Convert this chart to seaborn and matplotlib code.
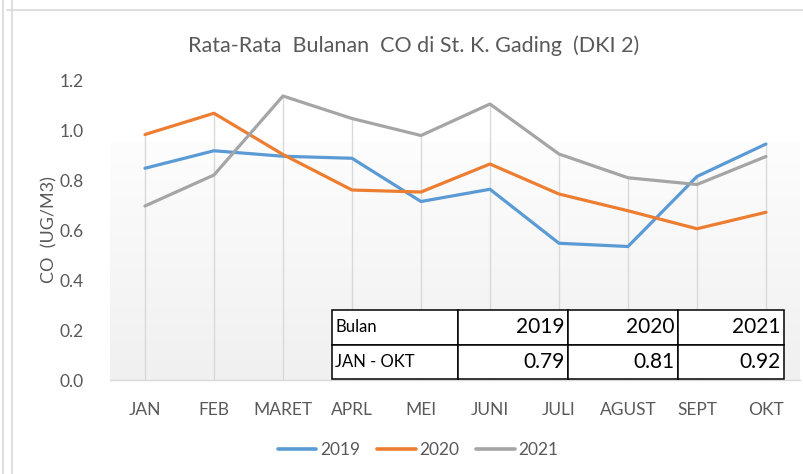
import matplotlib
matplotlib.use("Agg")
import matplotlib.pyplot as plt
import seaborn as sns
import pandas as pd
import numpy as np
from matplotlib.colors import LinearSegmentedColormap
from matplotlib.lines import Line2D

sns.set_theme(style="white")
plt.rcParams['font.family'] = ['Lato', 'DejaVu Sans']

months = ["JAN", "FEB", "MARET", "APRL", "MEI", "JUNI", "JULI", "AGUST", "SEPT", "OKT"]
co_2019 = [0.847, 0.917, 0.895, 0.887, 0.714, 0.763, 0.547, 0.534, 0.814, 0.944]
co_2020 = [0.982, 1.067, 0.902, 0.760, 0.752, 0.864, 0.744, 0.677, 0.605, 0.671]
co_2021 = [0.696, 0.820, 1.136, 1.046, 0.978, 1.104, 0.904, 0.809, 0.782, 0.894]
years = ["2019", "2020", "2021"]
colors = ["#5B9BD5", "#ED7D31", "#A5A5A5"]

table_header = ["Bulan", "2019", "2020", "2021"]
table_row = ["JAN - OKT", "0.79", "0.81", "0.92"]

df = pd.DataFrame({
    "bulan": months * 3,
    "co": co_2019 + co_2020 + co_2021,
    "tahun": [y for y in years for _ in months],
})

grey_text = "#595959"
fig = plt.figure(figsize=(8.04, 4.74), dpi=100)
ax = fig.add_axes([0.1374, 0.1983, 0.8582, 0.6329])

# soft plot-area fill
cmap = LinearSegmentedColormap.from_list("pa", ["#f0f0f0", "#fdfdfd"])
grad = np.linspace(0, 1, 100).reshape(-1, 1)
ax.imshow(grad, extent=[-0.5, 9.5, 0, 0.95], aspect="auto", cmap=cmap,
          origin="lower", zorder=0)

# drop lines from the highest series to the axis
tops = np.max([co_2019, co_2020, co_2021], axis=0)
ax.vlines(range(len(months)), 0, tops, color="#d9d9d9", lw=1.0, zorder=1)

sns.lineplot(data=df, x="bulan", y="co", hue="tahun", palette=colors,
             linewidth=2.3, ax=ax, legend=False, zorder=3, sort=False)

ax.set_xlim(-0.5, 9.5)
ax.set_ylim(0, 1.2)
ax.set_yticks(np.arange(0, 1.21, 0.2))
ax.set_yticklabels([f"{v:.1f}" for v in np.arange(0, 1.21, 0.2)])
ax.tick_params(axis="both", length=0, labelsize=12.5, labelcolor=grey_text)
ax.tick_params(axis="y", pad=19)
ax.tick_params(axis="x", pad=16)
for s in ["top", "right", "left"]:
    ax.spines[s].set_visible(False)
ax.spines["bottom"].set_color("#d9d9d9")
ax.spines["bottom"].set_linewidth(1.0)
ax.set_xlabel("")
ax.set_ylabel("CO  (UG/M3)", fontsize=13, color=grey_text, labelpad=2)
ax.grid(False)
ax.set_facecolor("none")

# data table
tbl = ax.table(cellText=[table_row], colLabels=table_header,
               colWidths=[126, 110, 110, 106],
               bbox=[0.3206, 0.003, 0.6555, 0.23], zorder=5)
tbl.auto_set_font_size(False)
for (r, c), cell in tbl.get_celld().items():
    cell.set_edgecolor("black")
    cell.set_linewidth(1.1)
    cell.set_facecolor("white")
    cell.PAD = 0.03
    txt = cell.get_text()
    if c == 0:
        cell._loc = "left"
        txt.set_ha("left")
        txt.set_fontsize(12)
    else:
        cell._loc = "right"
        txt.set_ha("right")
        txt.set_fontsize(15)
    txt.set_color("black")

fig.suptitle("Rata-Rata  Bulanan  CO di St. K. Gading  (DKI 2)", x=0.515, y=0.925,
             fontsize=15.5, color=grey_text)

handles = [Line2D([], [], color=c, lw=2.6) for c in colors]
fig.legend(handles, years, loc="center", bbox_to_anchor=(0.52, 0.05), ncol=3,
           frameon=False, fontsize=12.5, handlelength=2.2, handletextpad=0.2,
           columnspacing=1.0, labelcolor=grey_text)

# chart-area border
fig.add_artist(Line2D([0.009, 1.0], [0.979, 0.979], color="#d9d9d9", lw=1.2,
                      transform=fig.transFigure))
for xx in [0.004, 0.015]:
    fig.add_artist(Line2D([xx, xx], [0.0, 1.0], color="#d9d9d9", lw=1.2,
                          transform=fig.transFigure))

fig.savefig("out.png", dpi=100)
